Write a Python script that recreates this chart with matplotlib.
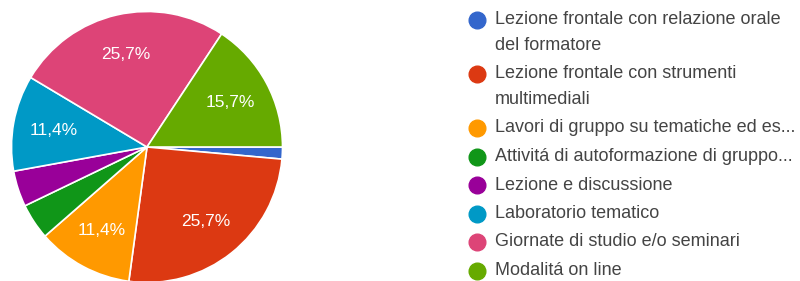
import matplotlib
matplotlib.use("Agg")
import matplotlib.pyplot as plt

labels = [
    "Lezione frontale con relazione orale\ndel formatore",
    "Lezione frontale con strumenti\nmultimediali",
    "Lavori di gruppo su tematiche ed es...",
    "Attivitá di autoformazione di gruppo...",
    "Lezione e discussione",
    "Laboratorio tematico",
    "Giornate di studio e/o seminari",
    "Modalitá on line",
]
counts = [1, 18, 8, 3, 3, 8, 18, 11]
colors = ["#3366cc", "#dc3912", "#ff9900", "#109618", "#990099",
          "#0099c6", "#dd4477", "#66aa00"]

plt.rcParams['font.family'] = ['Liberation Sans', 'DejaVu Sans']

W, H = 800, 281
fig = plt.figure(figsize=(W / 100, H / 100), dpi=100)

cx, cy, r = 147, 147, 135.5
ax = fig.add_axes([(cx - r) / W, (H - cy - r) / H, 2 * r / W, 2 * r / H])
total = sum(counts)

def fmt(p):
    return ("%.1f%%" % p).replace(".", ",") if p >= 5 else ""

wedges, texts, autotexts = ax.pie(
    counts, colors=colors, startangle=0, counterclock=False,
    autopct=fmt, pctdistance=0.70, radius=1,
    wedgeprops=dict(edgecolor="white", linewidth=1.2),
    textprops=dict(color="white", fontsize=12.5))
ax.set_xlim(-1, 1)
ax.set_ylim(-1, 1)
ax.set_aspect("auto")
ax.axis("off")

# legend
lx_circle, lx_text = 477, 495
y = 20
wrap_gap, item_gap = 25.5, 28.5
for lab, col in zip(labels, colors):
    lines = lab.split("\n")
    fig.lines.append(plt.Line2D([lx_circle / W], [(H - y) / H], marker="o",
                                markersize=12, color=col, linestyle="none",
                                transform=fig.transFigure))
    yy = y
    for i, ln in enumerate(lines):
        fig.text(lx_text / W, (H - yy) / H, ln, fontsize=13, color="#444444",
                 va="center", ha="left")
        if i < len(lines) - 1:
            yy += wrap_gap
    y = yy + item_gap

fig.savefig("out.png", dpi=100, facecolor="white")
